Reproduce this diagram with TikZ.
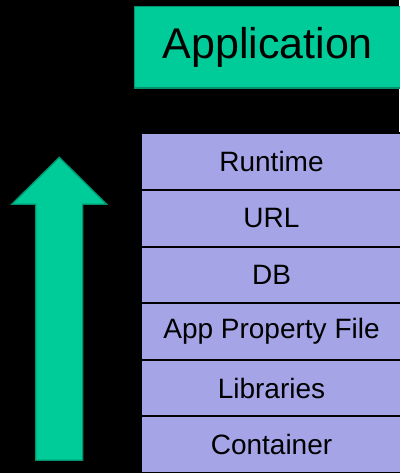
\documentclass[tikz,border=0pt]{standalone}
\usepackage{fontspec}
\setmainfont{Liberation Sans}
\definecolor{appgreen}{HTML}{00CC99}
\definecolor{appgreenline}{HTML}{00936C}
\definecolor{lav}{HTML}{A4A4E7}
\begin{document}
\begin{tikzpicture}[x=1pt,y=-1pt,
  layer/.style={draw=black,line width=2pt,fill=lav,minimum width=262pt,minimum height=56.6pt,
    anchor=north west,inner sep=0pt,font=\fontsize{28}{32}\selectfont},
  appbox/.style={draw=appgreenline,line width=1.5pt,fill=appgreen,minimum width=270pt,
    minimum height=81.5pt,anchor=north west,inner sep=0pt,font=\fontsize{43}{48}\selectfont}]
\fill[black] (0,0) rectangle (399,473);
\useasboundingbox (0,0) rectangle (399,473);
\node[appbox] (app) at (133.5,6) {\hspace*{-3pt}Application};
\node[layer] (runtime) at (139.5,132.3) {Runtime};
\node[layer] (url) at (139.5,188.9) {URL};
\node[layer] (db) at (139.5,245.5) {DB};
\node[layer] (prop) at (139.5,302.1) {App Property File};
\node[layer] (lib) at (139.5,358.7) {Libraries};
\node[layer] (cont) at (139.5,415.3) {Container};
\draw[draw=appgreenline,line width=1.3pt,fill=appgreen,line join=miter]
  (59.3,157.3) -- (106.7,204.3) -- (82.7,204.3) -- (82.7,460.3) -- (35.7,460.3)
  -- (35.7,204.3) -- (11.7,204.3) -- cycle;
\end{tikzpicture}
\end{document}
